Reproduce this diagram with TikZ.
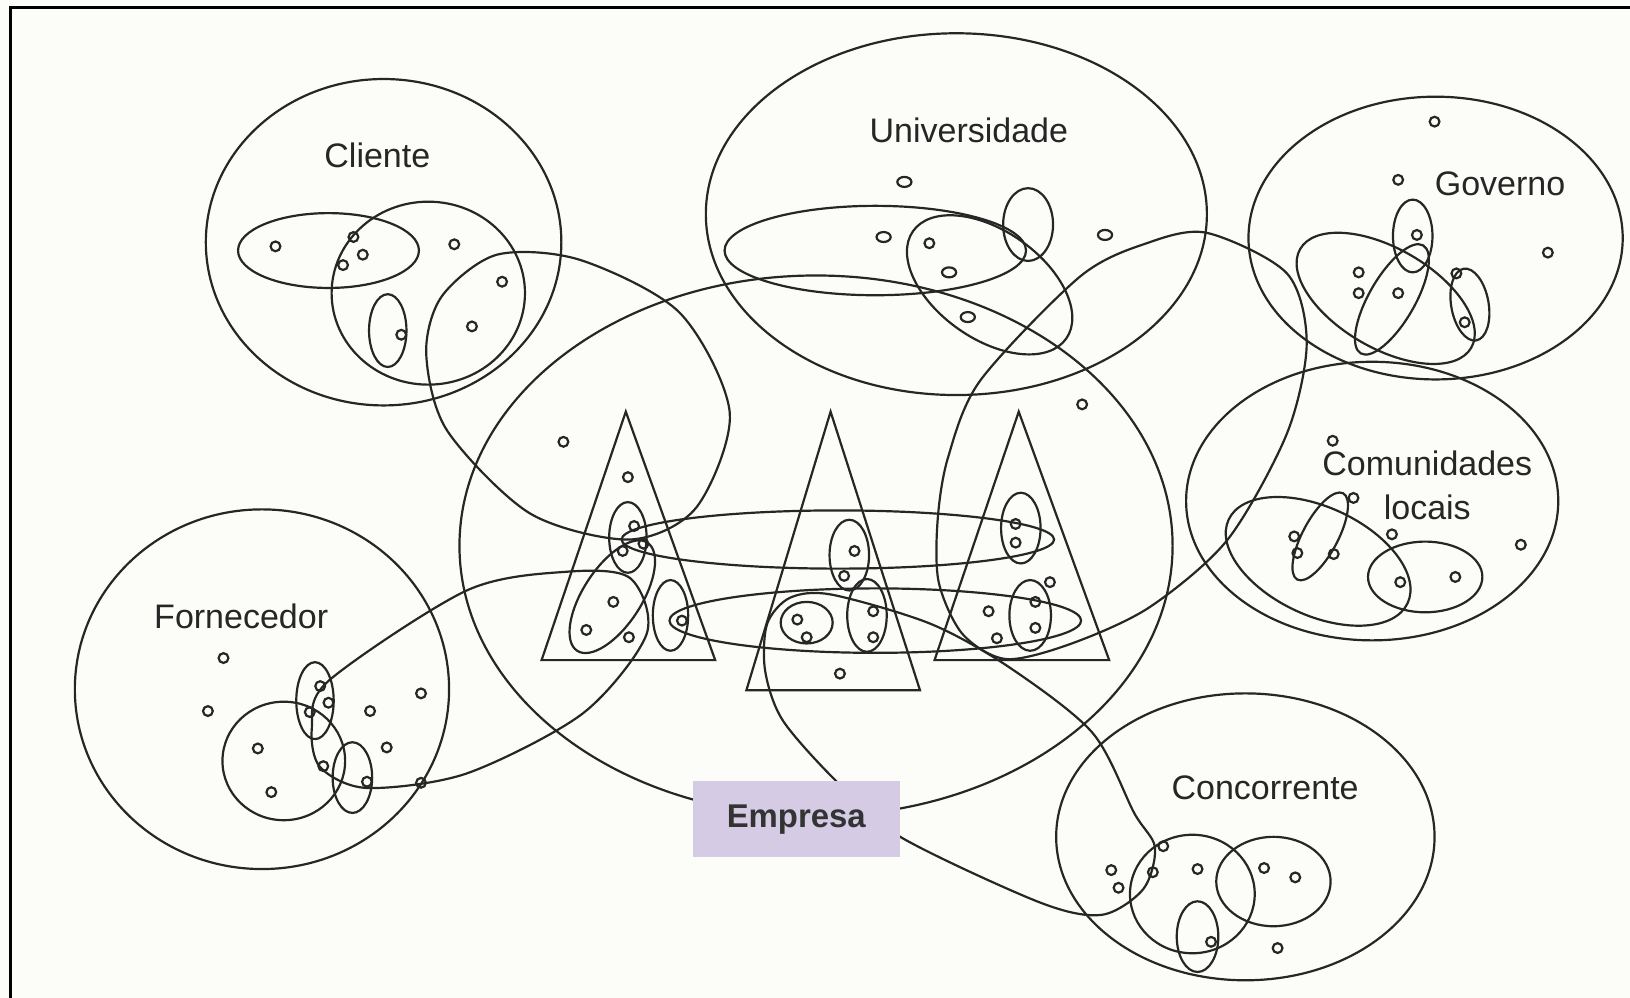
\documentclass[tikz,border=0pt]{standalone}
\usepackage{fontspec}
\newfontfamily\labelfont{Liberation Sans}
\usepackage{tikz}

\tikzset{
  rede/.style={draw=black!85, line width=0.6pt},
  ponto/.style={draw=black!85, line width=0.6pt},
  rotulo/.style={font=\labelfont\fontsize{9.3}{10}\selectfont, text=black!85, inner sep=0pt},
  empresa/.style={fill={rgb,255:red,214;green,203;blue,228}, minimum width=1.99cm,
    minimum height=0.73cm, inner sep=0pt, font=\labelfont\bfseries\fontsize{9}{10}\selectfont, text=black!80}
}

\begin{document}
\begin{tikzpicture}[x=0.01cm, y=-0.01cm]
    \useasboundingbox[fill={rgb,255:red,252;green,252;blue,248}] (0,0) rectangle (1568,960);
    \draw[line width=0.9pt] (10,960) -- (10,7) -- (1568,7);

    \begin{scope}[rede]
      % Cliente
      \draw (369,233) ellipse (171 and 157);
      \draw (316,241) ellipse (87 and 36);
      \draw (412,282) ellipse (93 and 88);
      \draw (373,318) ellipse (18 and 35);
      % Universidade
      \draw (920,206) ellipse (241 and 174);
      \draw (842,241) ellipse (145 and 43);
      \draw[rotate around={-35:(952,274)}] (952,274) ellipse (90 and 52);
      \draw (989,216) ellipse (24 and 35);
      % Governo
      \draw (1381,229) ellipse (180 and 136);
      \draw (1359,227) ellipse (19 and 35);
      \draw[rotate around={-30:(1339,288)}] (1339,288) ellipse (22 and 60);
      \draw[rotate around={-30:(1333,287)}] (1333,287) ellipse (95 and 48);
      \draw[rotate around={10:(1414,293)}] (1414,293) ellipse (18 and 35);
      % Comunidades locais
      \draw (1320,482) ellipse (179 and 134);
      \draw[rotate around={-28:(1270,516)}] (1270,516) ellipse (17 and 47);
      \draw[rotate around={-25:(1268,540)}] (1268,540) ellipse (95 and 52);
      \draw (1371,555) ellipse (55 and 34);
      % Fornecedor
      \draw (252,663) ellipse (180 and 173);
      \draw (273,732) ellipse (59 and 57);
      \draw (303,674) ellipse (18 and 37);
      \draw (339,748) ellipse (19 and 34);
      % Concorrente
      \draw (1198,805) ellipse (182 and 138);
      \draw (1147,860) ellipse (60 and 57);
      \draw (1225,848) ellipse (55 and 43);
      \draw (1152,901) ellipse (20 and 34);
      % Empresa
      \draw (785,525) ellipse (343 and 260);
      \draw (602,396) -- (521,635) -- (688,635) -- cycle;
      \draw (799,396) -- (718,664) -- (885,664) -- cycle;
      \draw (980,396) -- (899,635) -- (1067,635) -- cycle;
      \draw (604,517) ellipse (18 and 34);
      \draw[rotate around={-33:(589,574)}] (589,574) ellipse (28 and 62);
      \draw (645,592) ellipse (17 and 34);
      \draw (817,534) ellipse (19 and 34);
      \draw (834,592) ellipse (19 and 35);
      \draw (776,599) ellipse (25 and 20);
      \draw (982,508) ellipse (19 and 34);
      \draw (991,592) ellipse (20 and 34);
      \draw (806,519) ellipse (208 and 28);
      \draw (842,597) ellipse (198 and 31);
      % lacos
      \draw plot[smooth cycle] coordinates {(410,340) (430,414) (510,494) (606,519) (670,488)
        (702,397) (654,301) (558,250) (478,245) (425,285)};
      \draw plot[smooth cycle] coordinates {(316,655) (449,568) (545,550) (606,556) (622,610)
        (561,686) (449,744) (353,758) (308,738) (300,700)};
      \draw plot[smooth cycle] coordinates {(738,600) (760,575) (800,572) (895,600) (971,642)
        (1051,705) (1091,782) (1111,815) (1100,855) (1060,880) (1000,868) (866,805) (805,752)
        (753,693) (736,645)};
      \draw plot[smooth cycle] coordinates {(1161,224) (1238,263) (1257,330) (1238,417) (1181,519)
        (1106,584) (1031,619) (968,634) (926,610) (903,560) (902,500) (912,440) (943,366)
        (1039,266) (1103,234)};
    \end{scope}

    \begin{scope}[ponto]
      \foreach \p in {(265,237),(340,228),(349,245),(330,255),(437,235),(483,271),(454,314),(386,322),
        (894,234),
        (1380,117),(1345,173),(1489,243),(1363,226),(1307,262),(1307,282),(1345,282),(1401,263),(1409,310),
        (1282,424),(1302,479),(1245,516),(1248,532),(1283,533),(1339,514),(1347,560),(1400,555),(1463,524),
        (215,633),(200,684),(308,660),(316,676),(298,685),(356,684),(405,667),(372,719),(248,720),
        (261,762),(311,737),(353,752),(405,753),
        (1069,837),(1076,854),(1109,839),(1119,814),(1152,836),(1216,835),(1246,844),(1165,906),(1229,912),
        (542,425),(1041,389),
        (604,459),(610,506),(619,523),(599,530),(590,579),(564,606),(605,613),(656,597),
        (822,530),(812,554),(840,588),(840,613),(767,596),(776,613),(808,648),
        (977,504),(977,522),(996,579),(996,604),(1010,560),(951,588),(959,614)}
        \draw \p circle (4.7);
      \foreach \p in {(870,175),(850,228),(913,262),(931,305),(1063,226)}
        \draw \p ellipse (6.8 and 4.8);
    \end{scope}

    \node[empresa] (empresa) at (766,788) {Empresa};
    \node[rotulo] (cliente) at (363,149) {Cliente};
    \node[rotulo] (universidade) at (932,125) {Universidade};
    \node[rotulo] (governo) at (1443,177) {Governo};
    \node[rotulo, align=center] (comunidades) at (1373,467) {Comunidades\\[2pt]locais};
    \node[rotulo] (fornecedor) at (232,593) {Fornecedor};
    \node[rotulo] (concorrente) at (1217,758) {Concorrente};
\end{tikzpicture}
\end{document}
